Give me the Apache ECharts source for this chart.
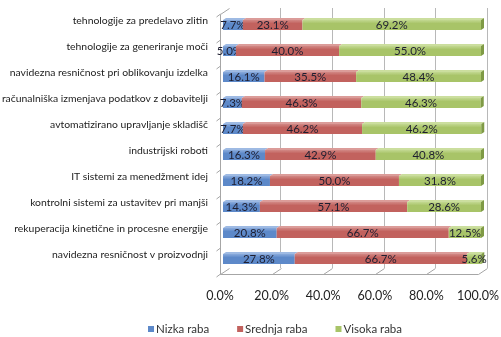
<!DOCTYPE html>
<html>
<head>
<meta charset="utf-8">
<script src="https://cdn.jsdelivr.net/npm/echarts@6/dist/echarts.min.js"></script>
<style>
  html, body { margin: 0; padding: 0; background: #fff; }
  #chart { width: 501px; height: 337px; }
</style>
</head>
<body>
<div id="chart"></div>
<script>
// Technology usage levels, share of respondents (%)
const categories = [
  'tehnologije za predelavo zlitin',
  'tehnologije za generiranje moči',
  'navidezna resničnost pri oblikovanju izdelka',
  'računalniška izmenjava podatkov z dobavitelji',
  'avtomatizirano upravljanje skladišč',
  'industrijski roboti',
  'IT sistemi za menedžment idej',
  'kontrolni sistemi za ustavitev pri manjši',
  'rekuperacija kinetične in procesne energije',
  'navidezna resničnost v proizvodnji'
];
const seriesNames = ['Nizka raba', 'Srednja raba', 'Visoka raba'];
const nizka   = [7.7, 5.0, 16.1, 7.3, 7.7, 16.3, 18.2, 14.3, 20.8, 27.8];
const srednja = [23.1, 40.0, 35.5, 46.3, 46.2, 42.9, 50.0, 57.1, 66.7, 66.7];
const visoka  = [69.2, 55.0, 48.4, 46.3, 46.2, 40.8, 31.8, 28.6, 12.5, 5.6];
const xTicks = [0, 20, 40, 60, 80, 100];

const FONT = 'Lato, "Open Sans", sans-serif';
// front/top/side shades for each series
const palette = [
  { front: '#5d89c9', light: '#8aabdc', top: '#9ebae3', side: '#3f6aa8' },
  { front: '#c2625e', light: '#d28885', top: '#db9c99', side: '#9a3f3c' },
  { front: '#a8c468', light: '#c2d891', top: '#cbde9e', side: '#7f9a45' }
];
// bars sit in front of the back wall: shift left/down
const OX = -6, OY = 3;
const DX = 3, DY = 2;   // visible depth of the bar top face
const BAR_H = 12;

const values = [nizka, srednja, visoka];

function buildData(si) {
  return categories.map((c, i) => {
    let start = 0;
    for (let k = 0; k < si; k++) start += values[k][i];
    const end = start + values[si][i];
    return [i, start, end, values[si][i]];
  });
}

function makeRender(si) {
  const col = palette[si];
  return function (params, api) {
    const cat = api.value(0);
    const p0 = api.coord([api.value(1), cat]);
    const p1 = api.coord([api.value(2), cat]);
    const x0 = p0[0] + OX, x1 = p1[0] + OX;
    const yc = p0[1] + OY;
    const yt = yc - BAR_H / 2 + DY, yb = yc + BAR_H / 2;
    const children = [
      {
        type: 'rect',
        shape: { x: x0, y: yt, width: x1 - x0, height: yb - yt },
        style: {
          fill: new echarts.graphic.LinearGradient(0, 0, 0, 1, [
            { offset: 0, color: col.light },
            { offset: 0.35, color: col.front },
            { offset: 1, color: col.front }
          ])
        }
      },
      {
        type: 'polygon',
        shape: { points: [[x0, yt], [x1, yt], [x1 + DX, yt - DY], [x0 + DX, yt - DY]] },
        style: { fill: col.top }
      }
    ];
    if (si === 2) {
      children.push({
        type: 'polygon',
        shape: { points: [[x1, yt], [x1 + DX, yt - DY], [x1 + DX, yb - DY], [x1, yb]] },
        style: { fill: col.side }
      });
    }
    children.push({
      type: 'text',
      style: {
        text: api.value(3).toFixed(1) + '%',
        x: (x0 + x1) / 2, y: yc + 1.5,
        align: 'center', verticalAlign: 'middle',
        font: '11.5px ' + FONT, fill: '#1e1e30'
      }
    });
    return { type: 'group', children };
  };
}

const chart = echarts.init(document.getElementById('chart'), null, { renderer: 'canvas' });

const GRID = { left: 229, right: 14, top: 8, bottom: 69, outerBoundsMode: 'none', containLabel: false };

chart.setOption({
  animation: false,
  backgroundColor: '#fff',
  color: palette.map(p => p.front),
  grid: GRID,
  legend: {
    data: seriesNames,
    left: 143, top: 318,
    icon: 'rect', itemWidth: 6, itemHeight: 6, itemGap: 28,
    textStyle: { fontFamily: FONT, fontSize: 11.5, color: '#333', padding: [0, 0, 0, -3] }
  },
  xAxis: {
    type: 'value', min: 0, max: 100, interval: 20,
    axisLine: { show: false }, axisTick: { show: false },
    axisLabel: {
      formatter: v => v.toFixed(1) + '%',
      fontFamily: FONT, fontSize: 12.5, color: '#222',
      margin: 21, padding: [0, 18, 0, 0]
    },
    splitLine: { show: true, showMinLine: false, lineStyle: { color: '#b8b8b8', width: 1 } }
  },
  yAxis: {
    type: 'category', data: categories, inverse: true,
    axisLine: { show: false }, axisTick: { show: false },
    axisLabel: { fontFamily: FONT, fontSize: 10.4, color: '#222', margin: 21 }
  },
  series: seriesNames.map((name, si) => ({
    name, type: 'custom',
    itemStyle: { color: palette[si].front },
    encode: { x: [1, 2], y: 0 },
    data: buildData(si),
    renderItem: makeRender(si),
    z: 3
  }))
});

// 3D floor and side wall outline
(function drawFrame() {
  const lineStyle = { stroke: '#a6a6a6', lineWidth: 1 };
  const backBottom = chart.convertToPixel({ gridIndex: 0 }, [0, categories.length - 1])[1] + 13;
  const yBack = Math.round(backBottom) + 0.5;
  const fx = -9, fy = 6;     // front offset of the floor
  const g = [];
  xTicks.forEach(v => {
    const x = Math.round(chart.convertToPixel({ gridIndex: 0 }, [v, 0])[0]) + 0.5;
    g.push({ type: 'line', shape: { x1: x, y1: yBack, x2: x + fx, y2: yBack + fy }, style: lineStyle });
  });
  const xl = Math.round(chart.convertToPixel({ gridIndex: 0 }, [0, 0])[0]) + 0.5;
  const xr = Math.round(chart.convertToPixel({ gridIndex: 0 }, [100, 0])[0]) + 0.5;
  // front floor edge
  g.push({ type: 'line', shape: { x1: xl + fx, y1: yBack + fy, x2: xr + fx, y2: yBack + fy }, style: lineStyle });
  // left side wall edge
  const yTop = GRID.top + 0.5;
  g.push({ type: 'line', shape: { x1: xl + fx, y1: yTop + fy, x2: xl + fx, y2: yBack + fy }, style: lineStyle });
  g.push({ type: 'line', shape: { x1: xl + fx, y1: yTop + fy, x2: xl, y2: yTop }, style: lineStyle });
  // category separators on the side wall
  for (let i = 0; i <= categories.length; i++) {
    const yc = chart.convertToPixel({ gridIndex: 0 }, [0, Math.min(i, categories.length - 1)])[1];
    const y = (i < categories.length ? yc - 13 : yc + 13) + fy;
    g.push({ type: 'line', shape: { x1: xl + fx, y1: y, x2: xl + fx - 4, y2: y + 3 }, style: lineStyle });
  }
  chart.setOption({ graphic: g.map(e => Object.assign(e, { silent: true, z: 1 })) });
})();
</script>
</body>
</html>
